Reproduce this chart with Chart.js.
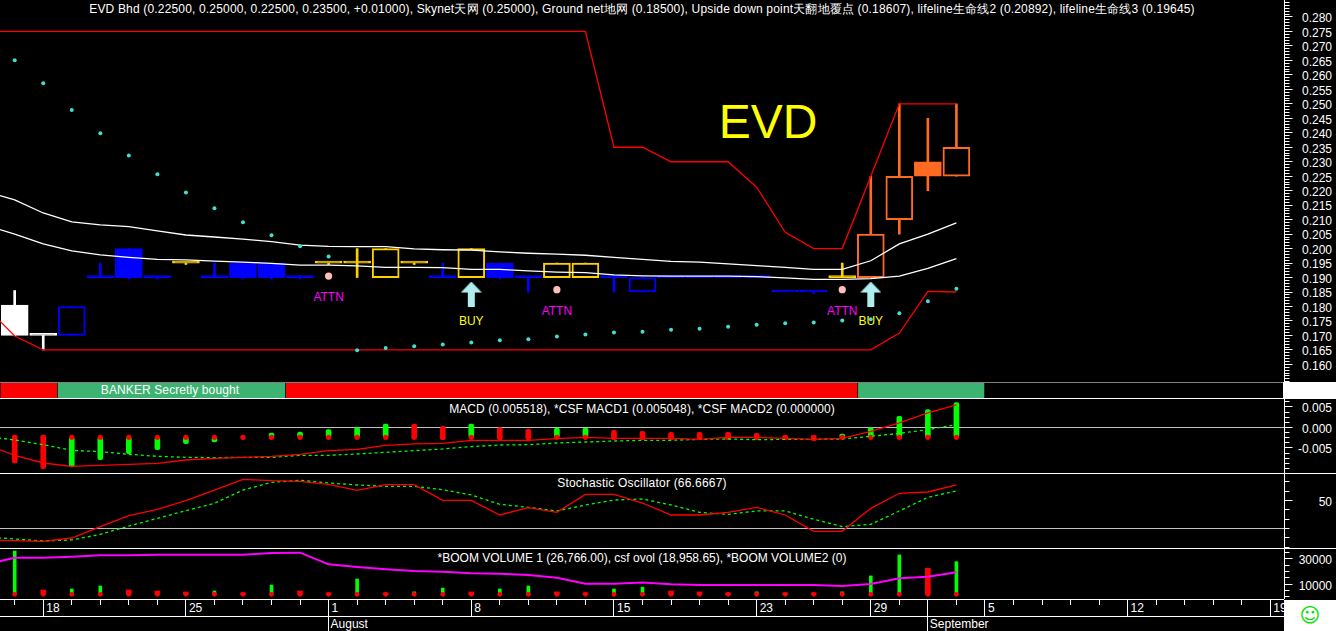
<!DOCTYPE html>
<html>
<head>
<meta charset="utf-8">
<title>EVD Bhd</title>
<script src="https://cdn.jsdelivr.net/npm/chart.js@4"></script>
<style>
    html, body { margin: 0; background: #000; overflow: hidden; }
    #page { position: relative; width: 1336px; height: 631px; overflow: hidden; }
    #page canvas { position: absolute; left: 0; }
    .rule { position: absolute; left: 0; height: 1px; }
    .box { position: absolute; background: #fff; }
    #smile { left: 1284px; top: 600px; width: 52px; height: 31px; color: #00e000; font: 20px/31px "DejaVu Sans"; text-align: center; }
</style>
</head>
<body>
<div id="page"></div>
<script>
// ---- data. Line series start one day before the first candle (index -1)
const dayCount = 45;

const candleHigh = [.1855, .170, .180, .195, .200, .190, .195, .195, .195, .195, .190, .195, .200, .200, .195, .195, .200, .195, .190, .195, .195, .190, .190, .190, .190, .190, .190, .185, .185, .195, .225, .250, .245, .250];
const candleLow = [.170, .165, .170, .190, .1895, .1895, .1945, .190, .1895, .1895, .1895, .1945, .190, .190, .1945, .190, .190, .1895, .185, .190, .190, .185, .185, .190, .190, .190, .190, .185, .1845, .190, .190, .205, .220, .225];
const bodyTop = [.1805, .170, .180, .190, .200, .190, .195, .190, .195, .195, .190, .195, .195, .200, .195, .190, .200, .195, .190, .195, .195, .190, .190, .190, .190, .190, .190, .185, .185, .190, .205, .225, .230, .235];
const bodyBottom = [.170, .170, .170, .190, .190, .190, .195, .190, .190, .190, .190, .195, .195, .190, .195, .190, .190, .190, .190, .190, .190, .190, .185, .190, .190, .190, .190, .185, .185, .190, .190, .210, .225, .225];
const candleTone = ['W', 'W', 'B', 'B', 'B', 'B', 'Y', 'B', 'B', 'B', 'B', 'Y', 'Y', 'Y', 'Y', 'B', 'Y', 'B', 'B', 'Y', 'Y', 'B', 'B', 'B', 'B', 'B', 'B', 'B', 'B', 'Y', 'O', 'O', 'O', 'O'];
const hollowDays = [2, 13, 16, 19, 20, 22, 30, 31, 33];

const lifeline2 = [.2197, .2168, .2123, .2092, .2082, .2076, .2061, .2047, .2040, .2033, .2024, .2012, .2008, .2007, .2007, .1999, .1996, .1995, .1989, .1984, .1981, .1977, .1970, .1963, .1956, .1953, .1947, .1941, .1935, .1928, .1928, .1958, .2016, .2050, .2089];
const lifeline3 = [.2080, .2050, .2016, .1992, .1978, .1970, .1963, .1961, .1957, .1953, .1949, .1943, .1943, .1940, .1935, .1935, .1934, .1928, .1928, .1923, .1919, .1917, .1909, .1906, .1905, .1905, .1905, .1903, .1899, .1894, .1894, .1896, .1905, .1932, .1965];
const skynet = [.275, .275, .275, .275, .275, .275, .275, .275, .275, .275, .275, .275, .275, .275, .275, .275, .275, .275, .275, .275, .275, .275, .235, .235, .230, .230, .230, .2212, .2056, .200, .200, .225, .250, .250, .250];
const groundNet = [.1798, .1698, .165, .165, .165, .165, .165, .165, .165, .165, .165, .165, .165, .165, .165, .165, .165, .165, .165, .165, .165, .165, .165, .165, .165, .165, .165, .165, .165, .165, .165, .165, .1708, .1852, .185];
const upsideDown = [.2651, .2571, .2479, .2398, .2322, .2257, .2194, .2139, .2091, .2046, .2008, .1973, .1649, .1657, .1663, .1669, .1676, .1683, .1687, .1696, .1703, .1710, .1713, .1720, .1723, .1730, .1737, .1742, .1745, .1752, .1756, .1777, .1818, .1861];

const attnDays = [11, 19, 29];
const attnLevel = [.1905, .1858, .1858];
const buyDays = [16, 30];
const buyLevel = [.1843, .1843];

const bandStart = [0, 2, 10, 30.05];
const bandEnd = [2, 10, 30.05, 34.5];
const bandColor = ['#ff0000', '#3cb371', '#ff0000', '#3cb371'];

const macdLine = [-.00419, -.00679, -.00866, -.00947, -.00923, -.00898, -.00874, -.00793, -.00752, -.00728, -.00703, -.00654, -.00565, -.00533, -.00435, -.00402, -.00386, -.00313, -.00313, -.00313, -.00272, -.0024, -.00264, -.00264, -.00264, -.00289, -.0024, -.0024, -.00264, -.00289, -.00264, -.00093, .0011, .00354, .0055];
const signalLine = [-.00215, -.00305, -.00419, -.00557, -.0059, -.00654, -.00703, -.00728, -.00736, -.00728, -.00728, -.00679, -.00679, -.00646, -.00606, -.00565, -.00524, -.00467, -.00427, -.00419, -.00378, -.00354, -.0033, -.00313, -.00313, -.00289, -.0028, -.00297, -.00289, -.00289, -.0028, -.00215, -.00142, -.00053, .00069];
const macdBarTop = [-.00191, -.00191, -.0024, -.0024, -.0024, -.0024, -.0024, -.0024, -.0024, -.00134, -.0011, -.00053, 0, .00085, .00085, .00028, .00085, 0, -.00045, -.00012, -.00012, -.00069, -.00093, -.00118, -.00118, -.00118, -.00142, -.00191, -.00191, -.00159, 0, .00272, .00435, .00606];
const macdBarBottom = [-.00866, -.01004, -.00963, -.00785, -.00638, -.00541, -.00394, -.00354, -.0024, -.0024, -.0024, -.0024, -.0024, -.0024, -.00272, -.00297, -.0024, -.00297, -.00297, -.0024, -.0024, -.00297, -.00297, -.00297, -.00297, -.00297, -.00297, -.00297, -.00321, -.0024, -.0024, -.0024, -.0024, -.0024];
const macdBarRising = [0, 0, 1, 1, 1, 1, 1, 1, 0, 1, 1, 1, 1, 1, 0, 0, 1, 0, 0, 1, 1, 0, 0, 0, 0, 0, 0, 0, 0, 1, 1, 1, 1, 1];
const macdBase = -.0024;

const stochK = [7.8, 7.0, 6.3, 9.9, 22, 33.8, 40.5, 49.8, 61.2, 72.6, 71.2, 70.5, 67.3, 60.9, 66.9, 66.9, 50.2, 50.2, 34.5, 42.3, 37.3, 56.6, 56.6, 47.3, 34.5, 34.5, 37.3, 42.7, 34.5, 17, 17, 41.6, 57.7, 59.1, 66.67];
const stochD = [11, 8.8, 6.7, 7.8, 13.8, 22.7, 30.9, 39.1, 47, 61.2, 69.4, 71.6, 68.7, 66.6, 65.1, 65.1, 61.6, 55.9, 45.9, 42.7, 38.8, 45.2, 50.5, 51.6, 45.2, 37.3, 35.2, 38.8, 38.8, 29.9, 22, 24.5, 38.8, 53.4, 60.2];

const volumeTop = [36300, 5500, 6300, 8650, 5500, 4700, 4000, 4700, 3200, 9400, 4700, 3200, 14200, 3200, 4000, 7000, 4000, 6300, 8650, 4000, 3200, 6300, 7800, 4700, 4000, 3200, 4000, 3200, 3200, 4000, 16600, 33200, 22600, 27900];
const volumeRising = [1, 0, 1, 1, 0, 0, 0, 1, 0, 1, 0, 0, 1, 0, 1, 1, 0, 1, 1, 0, 0, 1, 1, 0, 0, 0, 1, 0, 0, 1, 1, 1, 0, 1];
const volumeBase = 2100;
const ovol = [25800, 31000, 31000, 31800, 32900, 32900, 33400, 33400, 33400, 33400, 34700, 35000, 25800, 23700, 21850, 20500, 20000, 18700, 18400, 17350, 15200, 10500, 10500, 11500, 10000, 9400, 9400, 9400, 9400, 9400, 8700, 10300, 14700, 16000, 19500];

const dayTickIdx = [1, 6, 11, 16, 21, 26, 30, 34, 39, 44];
const dayTickText = ['18', '25', '1', '8', '15', '23', '29', '5', '12', '19'];
const monthTickIdx = [11, 32];
const monthTickText = ['August', 'September'];

const mainTitle = 'EVD Bhd (0.22500, 0.25000, 0.22500, 0.23500, +0.01000), Skynet天网 (0.25000), Ground net地网 (0.18500), Upside down point天翻地覆点 (0.18607), lifeline生命线2 (0.20892), lifeline生命线3 (0.19645)';

// ---- layout and look
const FONT = '12px "Liberation Sans", Arial, sans-serif';
const PLOT_WIDTH = 1284;
const X_MIN = -0.515;
const X_MAX = 44.48;
const LINE = 1.3;
const toneColor = { W: '#ffffff', B: '#0000ff', Y: '#ffd000', O: '#ff6a22' };
const page = document.getElementById('page');

function series(values, firstDay) {
    return values.map((v, i) => ({ x: i + firstDay, y: v }));
}

function line(data, color, width, dash, order) {
    return { type: 'line', data, borderColor: color, borderWidth: width, borderDash: dash || [], pointRadius: 0, tension: 0, order };
}

function dots(data, color, radius, order) {
    return { type: 'line', data, showLine: false, pointRadius: radius, pointBackgroundColor: color, pointBorderWidth: 0, order };
}

function floating(data, colors, thickness, order, extra) {
    return Object.assign({ type: 'bar', data, backgroundColor: colors, barThickness: thickness, grouped: false, borderSkipped: false, order }, extra || {});
}

// draws the hand-drawn parts of a pane: reference line, axis with long and short ticks, texts
function panePlugin(pane) {
    return {
        id: 'paneExtras',
        beforeDatasetsDraw(chart) {
            if (pane.refLine === undefined) return;
            const ctx = chart.ctx;
            const y = Math.floor(chart.scales.y.getPixelForValue(pane.refLine)) + 0.5;
            ctx.save();
            ctx.strokeStyle = '#c0c0c0';
            ctx.beginPath();
            ctx.moveTo(0, y);
            ctx.lineTo(PLOT_WIDTH, y);
            ctx.stroke();
            ctx.restore();
        },
        afterDraw(chart) {
            const ctx = chart.ctx;
            ctx.save();
            if (pane.step) {
                const yScale = chart.scales.y;
                const axisX = PLOT_WIDTH + 0.5;
                ctx.strokeStyle = '#fff';
                ctx.beginPath();
                ctx.moveTo(axisX, 0);
                ctx.lineTo(axisX, chart.height);
                yScale.ticks.forEach(tick => {
                    const y = Math.floor(yScale.getPixelForValue(tick.value)) + 0.5;
                    ctx.moveTo(axisX, y);
                    ctx.lineTo(axisX + (pane.isMajor(tick.value) ? 8 : 5), y);
                });
                ctx.stroke();
            }
            if (pane.drawExtra) pane.drawExtra(chart, ctx);
            ctx.textBaseline = 'middle';
            ctx.textAlign = 'center';
            (pane.texts || []).forEach(t => {
                ctx.font = t.font || FONT;
                ctx.letterSpacing = t.spacing || '0px';
                ctx.fillStyle = t.color || '#fff';
                ctx.fillText(t.text, t.x, t.y);
            });
            ctx.restore();
        }
    };
}

function addPane(pane) {
    const canvas = document.createElement('canvas');
    canvas.style.top = pane.top + 'px';
    canvas.width = pane.step ? 1336 : PLOT_WIDTH;
    canvas.height = pane.height;
    page.appendChild(canvas);
    canvas.getContext('2d', { alpha: false });

    const scales = pane.scales;
    if (pane.step) {
        scales.y = {
            position: 'right',
            min: pane.min,
            max: pane.max,
            afterFit: scale => {
                scale.width = 48;
                // tick padding would otherwise shrink the plot height too
                scale.paddingTop = 0;
                scale.paddingBottom = 0;
            },
            // own tick list: the built-in one bends the step to fit min and max
            afterBuildTicks: scale => {
                const ticks = [];
                const last = Math.floor(pane.max / pane.step);
                for (let k = Math.ceil(pane.min / pane.step); k <= last; k++) {
                    ticks.push({ value: Number((k * pane.step).toFixed(6)) });
                }
                scale.ticks = ticks;
            },
            border: { display: false },
            grid: { display: false, drawTicks: false },
            ticks: {
                autoSkip: false,
                crossAlign: 'far',
                labelOffset: 2,
                color: '#fff',
                font: { family: '"Liberation Sans", Arial, sans-serif', size: 12 },
                callback: v => pane.isMajor(v) ? pane.format(v) : ''
            }
        };
    }

    return new Chart(canvas, {
        type: 'bar',
        data: { labels: pane.labels, datasets: pane.datasets || [] },
        options: {
            responsive: false,
            animation: false,
            devicePixelRatio: 1,
            events: [],
            indexAxis: pane.indexAxis || 'x',
            layout: { padding: { right: pane.step ? 4 : 0 }, autoPadding: false },
            scales,
            plugins: { legend: { display: false }, title: { display: false }, tooltip: { enabled: false } }
        },
        plugins: [panePlugin(pane)]
    });
}

function xScaleOnly() {
    return { type: 'linear', display: false, min: X_MIN, max: X_MAX, offset: false, grid: { offset: false } };
}

// arrow sprite for the BUY marks
function buyArrow() {
    const c = document.createElement('canvas');
    c.width = 21;
    c.height = 25;
    const g = c.getContext('2d');
    g.fillStyle = '#afeeee';
    g.beginPath();
    g.moveTo(10.5, 0);
    g.lineTo(21, 11);
    g.lineTo(14, 11);
    g.lineTo(14, 25);
    g.lineTo(7, 25);
    g.lineTo(7, 11);
    g.lineTo(0, 11);
    g.closePath();
    g.fill();
    return c;
}

// ---- main price pane
const isHollow = i => hollowDays.includes(i);
const tones = candleTone.map(t => toneColor[t]);

addPane({
    top: 0, height: 382,
    scales: { x: xScaleOnly() },
    min: .15392, max: .28587, step: .001,
    isMajor: v => Math.round(v * 1000) % 5 === 0 && v > .158 && v < .283,
    format: v => v.toFixed(3),
    datasets: [
        floating(candleHigh.map((h, i) => ({ x: i, y: [candleLow[i], h] })), tones, 2, 9),
        floating(bodyTop.map((t, i) => ({ x: i, y: [bodyBottom[i], t] })), tones.map((c, i) => isHollow(i) ? '#000' : c), 27, 8, { borderColor: tones, borderWidth: 2, minBarLength: 2 }),
        line(series(lifeline2, -1), '#fff', LINE, null, 4),
        line(series(lifeline3, -1), '#fff', LINE, null, 4),
        line(series(skynet, -1), '#ff0000', LINE, null, 3),
        line(series(groundNet, -1), '#ff0000', LINE, null, 3),
        dots(series(upsideDown, 0), '#40e0d0', 2, 2),
        dots(attnDays.map((d, i) => ({ x: d, y: attnLevel[i] })), '#ffbfb8', 3.6, 1),
        Object.assign(dots(buyDays.map((d, i) => ({ x: d, y: buyLevel[i] })), '#afeeee', 12, 1), { pointStyle: buyArrow() })
    ],
    texts: [
        { text: mainTitle, x: 642, y: 10, spacing: '0.17px' },
        { text: 'EVD', x: 768, y: 125, font: '48px "Liberation Sans", Arial, sans-serif', color: '#ffff00' }
    ],
    drawExtra(chart, ctx) {
        const xs = chart.scales.x;
        const ys = chart.scales.y;
        ctx.font = FONT;
        ctx.textAlign = 'center';
        ctx.textBaseline = 'middle';
        ctx.fillStyle = '#ff00ff';
        attnDays.forEach((d, i) => ctx.fillText('ATTN', xs.getPixelForValue(d), ys.getPixelForValue(attnLevel[i]) + 22));
        ctx.fillStyle = '#ffff00';
        buyDays.forEach((d, i) => ctx.fillText('BUY', xs.getPixelForValue(d), ys.getPixelForValue(buyLevel[i]) + 28));
    }
});

// ---- signal band
addPane({
    top: 383, height: 15,
    labels: ['band'],
    indexAxis: 'y',
    scales: {
        x: { type: 'linear', display: false, min: 0, max: 45, offset: false },
        y: { type: 'category', display: false }
    },
    datasets: bandStart.map((s, i) => ({
        data: [[s, bandEnd[i]]],
        backgroundColor: bandColor[i],
        borderColor: '#000',
        borderWidth: { left: 1 },
        borderSkipped: false,
        grouped: false,
        barPercentage: 1,
        categoryPercentage: 1
    })),
    texts: [{ text: 'BANKER Secretly bought', x: 170, y: 8, spacing: '0.1px' }]
});

// ---- MACD pane
const macdTone = macdBarRising.map(r => r ? '#00ff00' : '#ff0000');

addPane({
    top: 399, height: 74,
    scales: { x: xScaleOnly() },
    min: -.0111, max: .00695, step: .00125,
    refLine: 0,
    isMajor: v => Math.round(Math.abs(v) / .00125) % 4 === 0 && v > -.009,
    format: v => v.toFixed(3),
    datasets: [
        floating(macdBarTop.map((t, i) => ({ x: i, y: [macdBarBottom[i], t] })), macdTone, 5, 5, { borderRadius: 2 }),
        dots(macdBarTop.map((t, i) => ({ x: i, y: macdBase })), '#ff0000', 2.6, 4),
        line(series(signalLine, -1), '#00ff00', LINE, [3, 3], 3),
        line(series(macdLine, -1), '#ff0000', LINE, null, 2)
    ],
    texts: [{ text: 'MACD (0.005518), *CSF MACD1 (0.005048), *CSF MACD2 (0.000000)', x: 642, y: 11, spacing: '0.08px' }]
});

// ---- stochastic pane
addPane({
    top: 474, height: 74,
    scales: { x: xScaleOnly() },
    min: -.8, max: 78.34, step: 10,
    refLine: 20,
    isMajor: v => v === 50,
    format: v => String(v),
    datasets: [
        line(series(stochD, -1), '#00ff00', LINE, [3, 3], 3),
        line(series(stochK, -1), '#ff0000', LINE, null, 2)
    ],
    texts: [{ text: 'Stochastic Oscillator (66.6667)', x: 642, y: 9.5, spacing: '0.2px' }]
});

// ---- volume pane
addPane({
    top: 549, height: 50,
    scales: { x: xScaleOnly() },
    min: -1620, max: 37905, step: 5000,
    isMajor: v => v === 10000 || v === 30000,
    format: v => String(v),
    datasets: [
        floating(volumeTop.map((t, i) => ({ x: i, y: volumeRising[i] ? [volumeBase, t] : null })), '#00ff00', 3, 5),
        floating(volumeTop.map((t, i) => ({ x: i, y: volumeRising[i] ? null : [volumeBase, t] })), '#ff0000', 5, 5),
        dots(volumeTop.map((t, i) => ({ x: i, y: volumeBase })), '#ff0000', 2.4, 4),
        line(series(ovol, -1), '#ff00ff', 2, null, 2)
    ],
    texts: [{ text: '*BOOM VOLUME 1 (26,766.00), csf ovol (18,958.65), *BOOM VOLUME2 (0)', x: 642, y: 9.5 }]
});

// ---- date strip
addPane({
    top: 600, height: 31,
    scales: { x: xScaleOnly(), y: { display: false, min: 0, max: 1 } },
    drawExtra(chart, ctx) {
        const xs = chart.scales.x;
        ctx.strokeStyle = '#fff';
        ctx.fillStyle = '#fff';
        ctx.font = FONT;
        ctx.textAlign = 'left';
        ctx.textBaseline = 'middle';
        ctx.beginPath();
        for (let i = 0; i < dayCount; i++) {
            const x = Math.floor(xs.getPixelForValue(i)) + 0.5;
            const long = monthTickIdx.includes(i) ? 31 : dayTickIdx.includes(i) ? 16 : 5;
            ctx.moveTo(x, 0);
            ctx.lineTo(x, long);
        }
        ctx.stroke();
        dayTickIdx.forEach((d, i) => ctx.fillText(dayTickText[i], xs.getPixelForValue(d) + 3, 8.5));
        monthTickIdx.forEach((d, i) => ctx.fillText(monthTickText[i], xs.getPixelForValue(d) + 2, 24.5));
    }
});

// ---- frame lines and boxes that sit between the panes
[[382, 1283, '#808080'], [398, 1336, '#fff'], [473, 1336, '#fff'], [548, 1336, '#fff'], [599, 1284, '#fff'], [616, 1284, '#fff']].forEach(r => {
    const rule = document.createElement('div');
    rule.className = 'rule';
    rule.style.top = r[0] + 'px';
    rule.style.width = r[1] + 'px';
    rule.style.background = r[2];
    page.appendChild(rule);
});

const bandBox = document.createElement('div');
bandBox.className = 'box';
bandBox.style.cssText = 'left:1283px;top:382px;width:53px;height:16px';
page.appendChild(bandBox);

const smile = document.createElement('div');
smile.className = 'box';
smile.id = 'smile';
smile.textContent = '☺';
page.appendChild(smile);
</script>
</body>
</html>
